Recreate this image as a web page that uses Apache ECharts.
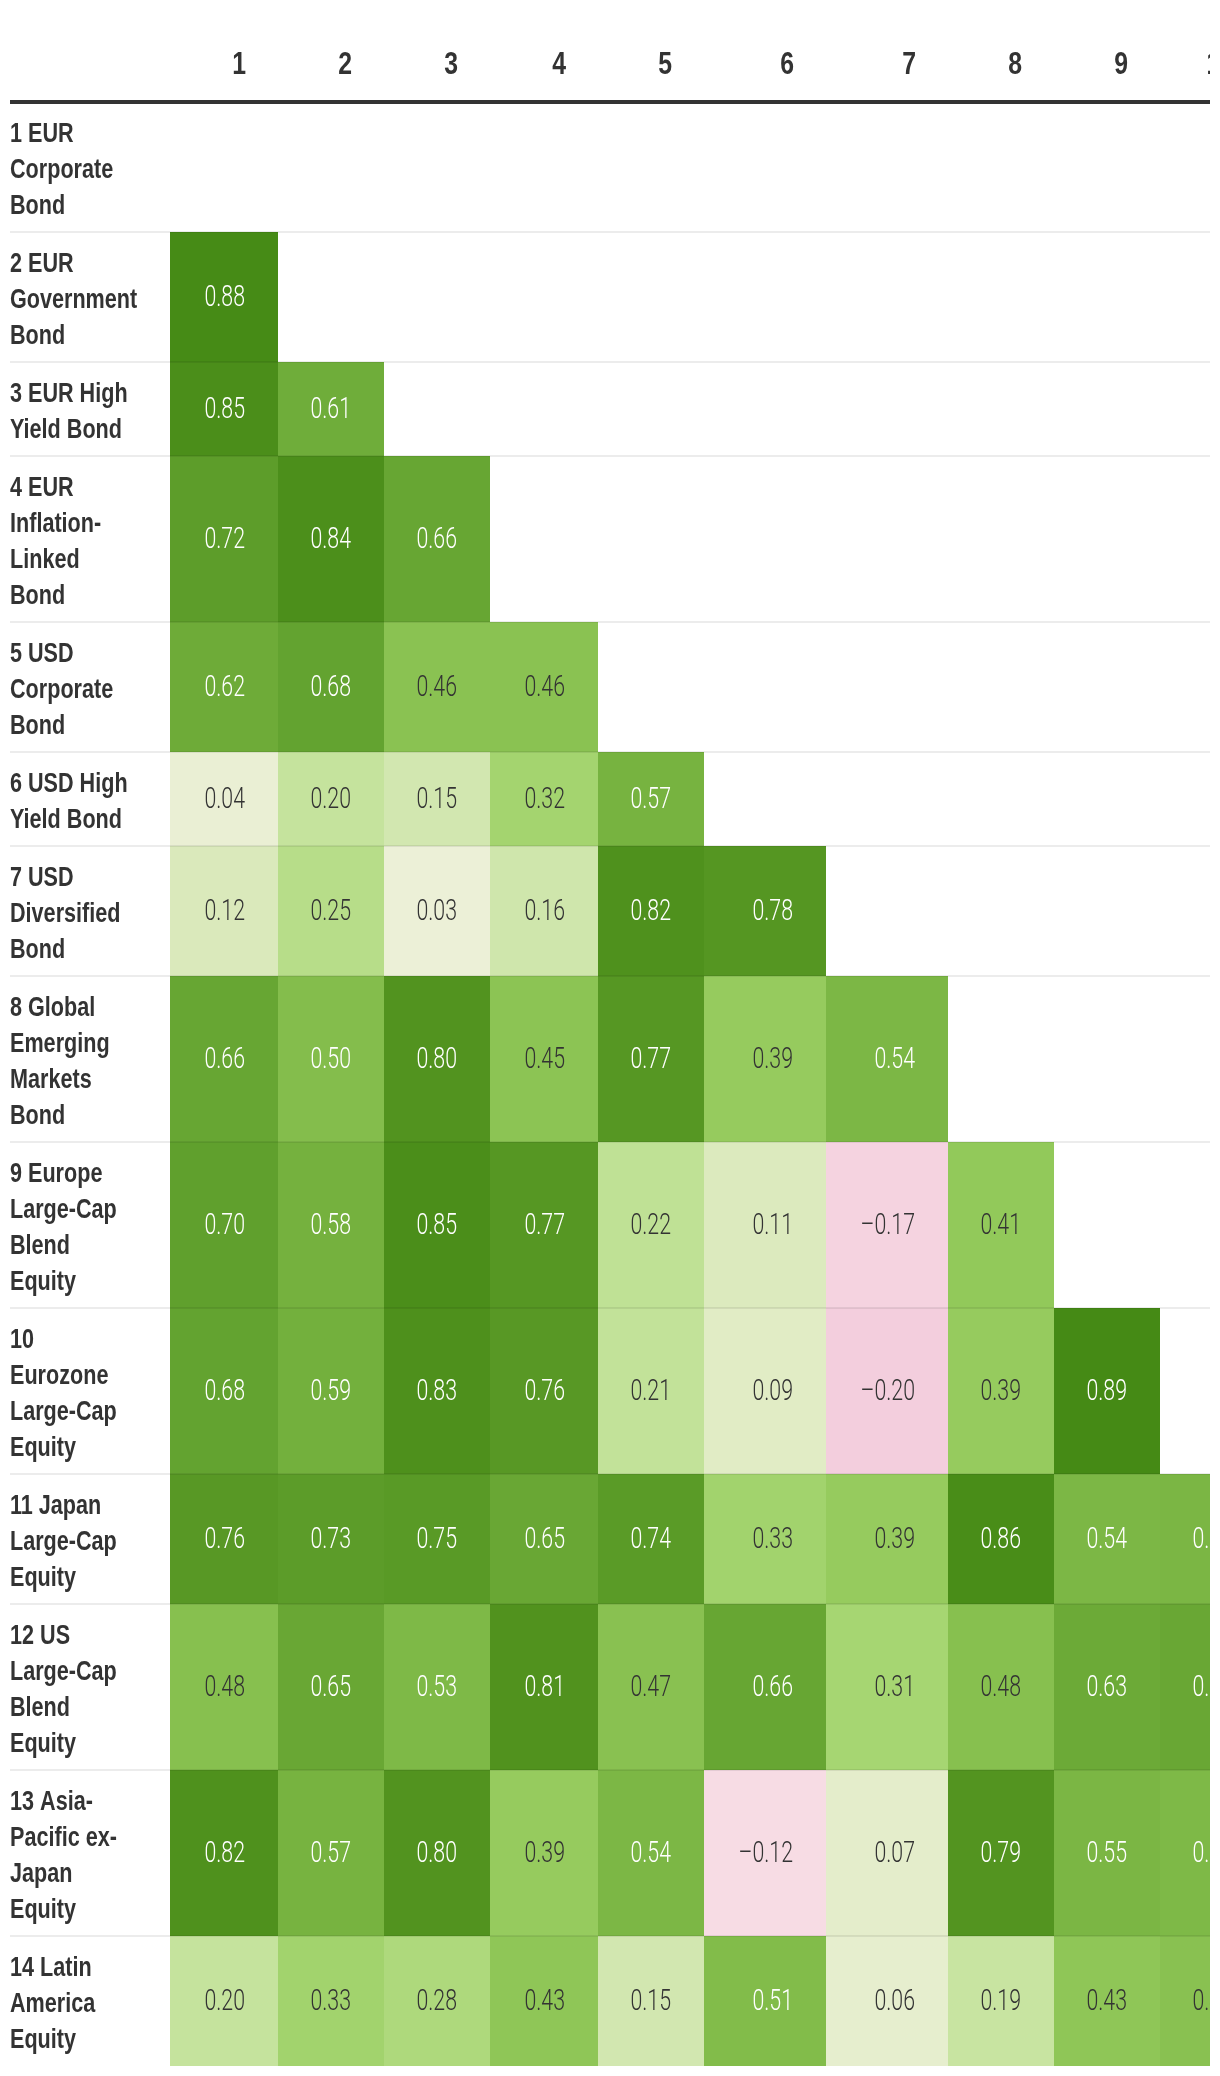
<!DOCTYPE html>
<html><head><meta charset="utf-8">
<script src="https://cdn.jsdelivr.net/npm/echarts@6/dist/echarts.min.js"></script>
<style>html,body{margin:0;padding:0;background:#fff}#c{width:1220px;height:2076px}</style>
</head><body><div id="c"></div>
<script>
// ---------- data ----------
const colLabels = ['1','2','3','4','5','6','7','8','9','10'];
const rowLabels = [
  '1 EUR\nCorporate\nBond',
  '2 EUR\nGovernment\nBond',
  '3 EUR High\nYield Bond',
  '4 EUR\nInflation-\nLinked\nBond',
  '5 USD\nCorporate\nBond',
  '6 USD High\nYield Bond',
  '7 USD\nDiversified\nBond',
  '8 Global\nEmerging\nMarkets\nBond',
  '9 Europe\nLarge-Cap\nBlend\nEquity',
  '10\nEurozone\nLarge-Cap\nEquity',
  '11 Japan\nLarge-Cap\nEquity',
  '12 US\nLarge-Cap\nBlend\nEquity',
  '13 Asia-\nPacific ex-\nJapan\nEquity',
  '14 Latin\nAmerica\nEquity'
];
const corrRows = [
  [],
  [0.88],
  [0.85, 0.61],
  [0.72, 0.84, 0.66],
  [0.62, 0.68, 0.46, 0.46],
  [0.04, 0.20, 0.15, 0.32, 0.57],
  [0.12, 0.25, 0.03, 0.16, 0.82, 0.78],
  [0.66, 0.50, 0.80, 0.45, 0.77, 0.39, 0.54],
  [0.70, 0.58, 0.85, 0.77, 0.22, 0.11, -0.17, 0.41],
  [0.68, 0.59, 0.83, 0.76, 0.21, 0.09, -0.20, 0.39, 0.89],
  [0.76, 0.73, 0.75, 0.65, 0.74, 0.33, 0.39, 0.86, 0.54, 0.55],
  [0.48, 0.65, 0.53, 0.81, 0.47, 0.66, 0.31, 0.48, 0.63, 0.65],
  [0.82, 0.57, 0.80, 0.39, 0.54, -0.12, 0.07, 0.79, 0.55, 0.53],
  [0.20, 0.33, 0.28, 0.43, 0.15, 0.51, 0.06, 0.19, 0.43, 0.47]
];
const colorStops = ['#f3cedd','#f8e0e6','#f1f2e0','#dfebc2','#c5e39d','#a8d774',
                    '#94ca5c','#84bd4c','#71ae3b','#60a02d','#52931f','#438914'];

// ---------- layout ----------
const LABEL_W = 160, HEADER_H = 102, LINE_H = 36, ROW_PAD = 22, TOTAL_W = 1200, TOTAL_H = 2076;
const colWidths = [108,106,106,108,106,122,122,106,106,106];
const colLeft = []; { let x = LABEL_W; colWidths.forEach(w => { colLeft.push(x); x += w; }); }
const rowHeights = rowLabels.map(l => l.split('\n').length * LINE_H + ROW_PAD);
const rowTop = []; { let y = HEADER_H; rowHeights.forEach(h => { rowTop.push(y); y += h; }); }

const BOLD_FONT = '"Liberation Sans",Arial,sans-serif';
const LIGHT_FONT = 'Roboto,"Liberation Sans",sans-serif';
const NARROW = 0.8, VALUE_NARROW = 0.735;

const cellData = [];
corrRows.forEach((row, r) => row.forEach((v, c) => cellData.push([c, r, v])));

function fmt(v) { return (v < 0 ? '\u2013' : '') + Math.abs(v).toFixed(2); }

const chart = echarts.init(document.getElementById('c'), null, {renderer: 'canvas'});
chart.setOption({
  animation: false,
  backgroundColor: '#fff',
  grid: {left: 10, top: 0, width: TOTAL_W, height: TOTAL_H},
  xAxis: {type: 'value', min: 0, max: TOTAL_W, show: false},
  yAxis: {type: 'value', min: 0, max: TOTAL_H, inverse: true, show: false},
  visualMap: {type: 'continuous', show: false, seriesIndex: 0, dimension: 2,
              min: -0.2, max: 0.9, inRange: {color: colorStops}},
  series: [
    {
      type: 'custom', name: 'cells', clip: true, z: 2,
      data: cellData,
      renderItem(params, api) {
        const c = api.value(0), r = api.value(1), v = api.value(2);
        const p0 = api.coord([colLeft[c], rowTop[r]]);
        const p1 = api.coord([colLeft[c] + colWidths[c], rowTop[r] + rowHeights[r]]);
        return {
          type: 'group',
          children: [
            {type: 'rect', shape: {x: p0[0], y: p0[1], width: p1[0] - p0[0], height: p1[1] - p0[1]},
             style: {fill: api.visual('color')}},
            {type: 'text', x: p1[0] - 33, y: (p0[1] + p1[1]) / 2 + 2, scaleX: VALUE_NARROW,
             style: {
              text: fmt(v), x: 0, y: 0,
              align: 'right', verticalAlign: 'middle',
              fill: v >= 0.5 ? '#ffffff' : '#333333',
              fontSize: 29, fontFamily: LIGHT_FONT, fontWeight: 300}}
          ]
        };
      }
    },
    {
      type: 'custom', name: 'rules', clip: true, z: 3,
      data: rowTop.map((y, i) => [i]),
      renderItem(params, api) {
        const i = api.value(0);
        const a = api.coord([0, rowTop[i]]), b = api.coord([TOTAL_W, rowTop[i]]);
        if (i === 0) {
          return {type: 'rect', shape: {x: a[0], y: a[1] - 2, width: b[0] - a[0], height: 4},
                  style: {fill: '#333333'}};
        }
        return {type: 'rect', shape: {x: a[0], y: a[1] - 1, width: b[0] - a[0], height: 2},
                style: {fill: 'rgba(0,0,0,0.075)'}};
      }
    },
    {
      type: 'custom', name: 'rowLabels', clip: true, z: 4,
      data: rowLabels.map((l, i) => [i]),
      renderItem(params, api) {
        const i = api.value(0);
        const p = api.coord([0, rowTop[i] + 14.5]);
        return {type: 'text', x: p[0], y: p[1], scaleX: NARROW, style: {
          text: rowLabels[i], x: 0, y: 0, align: 'left', verticalAlign: 'top',
          lineHeight: LINE_H, fill: '#333333', fontSize: 27, fontWeight: 'bold', fontFamily: BOLD_FONT}};
      }
    },
    {
      type: 'custom', name: 'header', clip: true, z: 4,
      data: colLabels.map((l, i) => [i]),
      renderItem(params, api) {
        const i = api.value(0);
        const p = api.coord([colLeft[i] + colWidths[i] - 32, 65]);
        return {type: 'text', x: p[0], y: p[1], scaleX: NARROW, style: {
          text: colLabels[i], x: 0, y: 0, align: 'right', verticalAlign: 'middle',
          fill: '#333333', fontSize: 31, fontWeight: 'bold', fontFamily: BOLD_FONT}};
      }
    }
  ]
});
</script></body></html>
